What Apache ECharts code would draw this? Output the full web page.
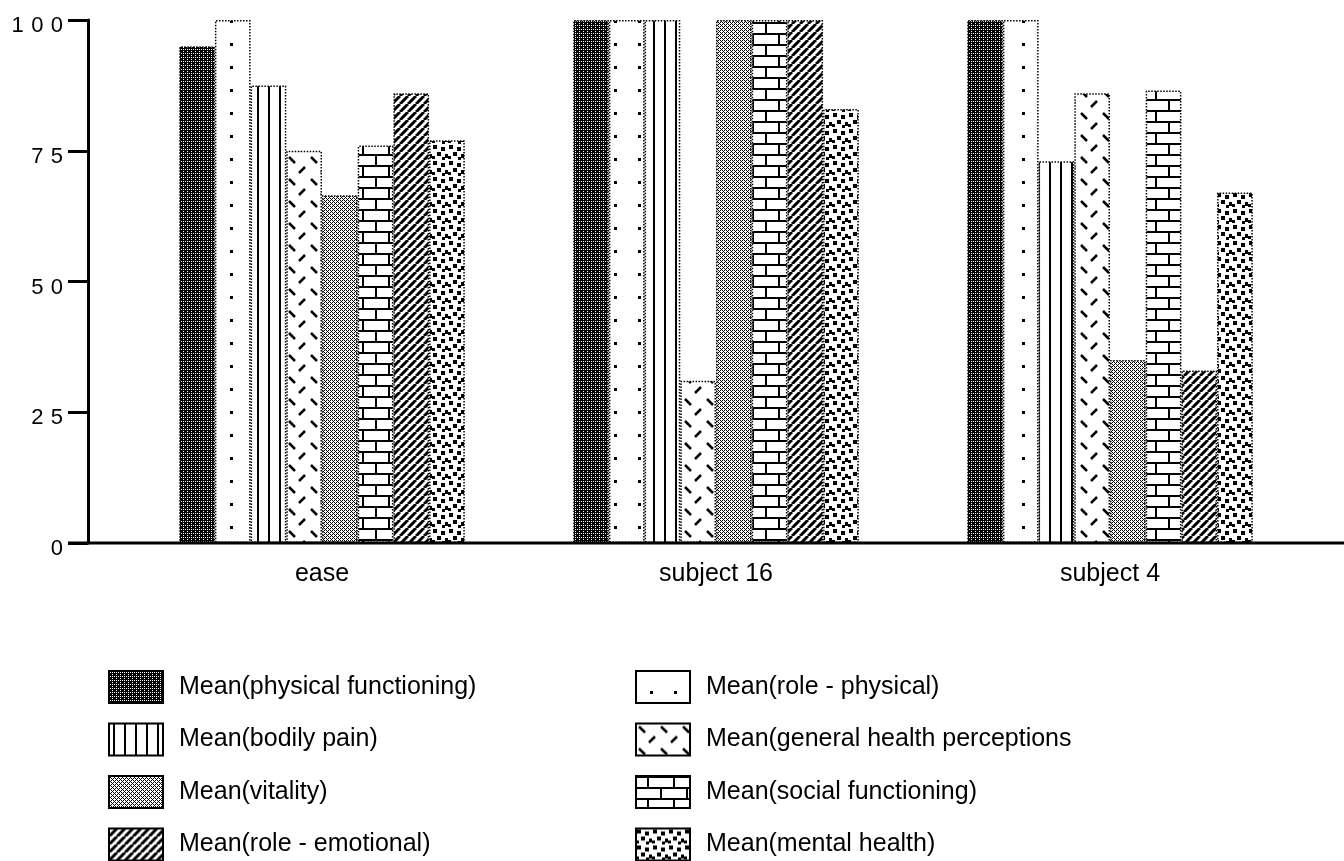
<!DOCTYPE html>
<html>
<head>
<meta charset="utf-8">
<script src="https://cdn.jsdelivr.net/npm/echarts@6/dist/echarts.min.js"></script>
<style>
  html, body { margin: 0; padding: 0; background: #fff; }
  #main { width: 1344px; height: 861px; }
</style>
</head>
<body>
<div id="main"></div>
<script>
// categories and values
const categories = ['ease', 'subject 16', 'subject 4'];
const yTicks = [0, 25, 50, 75, 100];

const physicalFunctioning = [95, 100, 100];
const rolePhysical = [100, 100, 100];
const bodilyPain = [87.5, 100, 73];
const generalHealth = [75, 31, 86];
const vitality = [66.5, 100, 35];
const socialFunctioning = [76, 100, 86.5];
const roleEmotional = [86, 100, 33];
const mentalHealth = [77, 83, 67];

const seriesNames = [
  'Mean(physical functioning)',
  'Mean(role - physical)',
  'Mean(bodily pain)',
  'Mean(general health perceptions',
  'Mean(vitality)',
  'Mean(social functioning)',
  'Mean(role - emotional)',
  'Mean(mental health)'
];
const seriesValues = [
  physicalFunctioning, rolePhysical, bodilyPain, generalHealth,
  vitality, socialFunctioning, roleEmotional, mentalHealth
];

// --- fill patterns (small canvas tiles) ---
function tile(w, h, draw) {
  const c = document.createElement('canvas');
  c.width = w;
  c.height = h;
  const ctx = c.getContext('2d');
  ctx.fillStyle = '#fff';
  ctx.fillRect(0, 0, w, h);
  ctx.fillStyle = '#000';
  ctx.strokeStyle = '#000';
  draw(ctx);
  return { image: c, repeat: 'repeat' };
}

const patterns = [
  // dark dither
  tile(4, 4, ctx => {
    ctx.fillRect(0, 0, 4, 4);
    ctx.fillStyle = '#fff';
    ctx.fillRect(1, 1, 1, 1);
    ctx.fillRect(3, 3, 1, 1);
    ctx.fillRect(3, 1, 1, 1);
  }),
  // sparse dots
  tile(24, 23, ctx => {
    ctx.fillRect(14, 20, 3, 3);
  }),
  // vertical lines
  tile(11, 4, ctx => {
    ctx.fillRect(4, 0, 2, 4);
  }),
  // little dashes
  tile(22, 22, ctx => {
    ctx.lineWidth = 2.5;
    ctx.beginPath();
    ctx.moveTo(3, 3); ctx.lineTo(9, 9);
    ctx.moveTo(13, 19); ctx.lineTo(19, 13);
    ctx.stroke();
  }),
  // lighter dither
  tile(4, 4, ctx => {
    ctx.fillRect(0, 0, 1, 1);
    ctx.fillRect(2, 0, 1, 1);
    ctx.fillRect(1, 1, 1, 1);
    ctx.fillRect(0, 2, 1, 1);
    ctx.fillRect(3, 3, 1, 1);
    ctx.fillRect(2, 2, 1, 1);
  }),
  // bricks
  tile(26, 22, ctx => {
    ctx.fillRect(0, 0, 26, 2);
    ctx.fillRect(0, 11, 26, 2);
    ctx.fillRect(11, 0, 2, 11);
    ctx.fillRect(24, 11, 2, 11);
  }),
  // diagonal stripes
  tile(8, 8, ctx => {
    ctx.lineWidth = 3;
    ctx.beginPath();
    for (let k = -8; k <= 8; k += 8) {
      ctx.moveTo(k, 8); ctx.lineTo(k + 8, 0);
    }
    ctx.stroke();
  }),
  // scattered squares
  tile(16, 16, ctx => {
    ctx.fillRect(1, 1, 4, 4);
    ctx.fillRect(9, 3, 4, 4);
    ctx.fillRect(5, 8, 4, 4);
    ctx.fillRect(13, 10, 3, 4);
    ctx.fillRect(0, 12, 3, 3);
    ctx.fillRect(10, 13, 3, 3);
  })
];

const font = 'Liberation Sans';

const chart = echarts.init(document.getElementById('main'));

const legendBase = {
  orient: 'vertical',
  top: 670,
  height: 200,
  padding: 0,
  itemWidth: 54,
  itemHeight: 32,
  itemGap: 18.5,
  icon: 'rect',
  selectedMode: false,
  textStyle: { fontSize: 25, color: '#000', fontFamily: font, padding: [0, 0, 0, 11] }
};

const option = {
  backgroundColor: '#fff',
  animation: false,
  textStyle: { fontFamily: font, color: '#000' },
  grid: { left: 125, right: 37, top: 20, bottom: 318 },
  xAxis: {
    type: 'category',
    data: categories,
    axisLine: { show: false },
    axisTick: { show: false },
    axisLabel: { fontSize: 25, color: '#000', margin: 19, fontFamily: font }
  },
  yAxis: {
    type: 'value',
    min: yTicks[0],
    max: yTicks[yTicks.length - 1],
    interval: 25,
    offset: 37,
    splitLine: { show: false },
    axisLine: { show: true, lineStyle: { color: '#000', width: 3 } },
    axisTick: { show: true, length: 20, lineStyle: { color: '#000', width: 3 } },
    axisLabel: {
      fontSize: 22,
      color: '#000',
      margin: 25,
      fontFamily: font,
      verticalAlign: 'top',
      lineHeight: 12,
      formatter: v => String(v).split('').join('\u2004')
    }
  },
  legend: [
    Object.assign({}, legendBase, {
      data: [seriesNames[0], seriesNames[2], seriesNames[4], seriesNames[6]],
      left: 108
    }),
    Object.assign({}, legendBase, {
      data: [seriesNames[1], seriesNames[3], seriesNames[5], seriesNames[7]],
      left: 635
    })
  ],
  series: seriesNames.map((name, i) => ({
    name: name,
    type: 'bar',
    data: seriesValues[i],
    barWidth: 35.7,
    barGap: '0%',
    itemStyle: {
      color: patterns[i],
      borderColor: '#000',
      borderWidth: 1.5,
      borderType: 'dotted'
    }
  }))
};

chart.setOption(option);

// long base line under the bars, placed through the value scale
const y0 = chart.convertToPixel({ yAxisIndex: 0 }, 0);
chart.setOption({
  graphic: [{
    type: 'line',
    z: 100,
    shape: { x1: 68, y1: y0, x2: 1344, y2: y0 },
    style: { stroke: '#000', lineWidth: 3 }
  }]
});
</script>
</body>
</html>
